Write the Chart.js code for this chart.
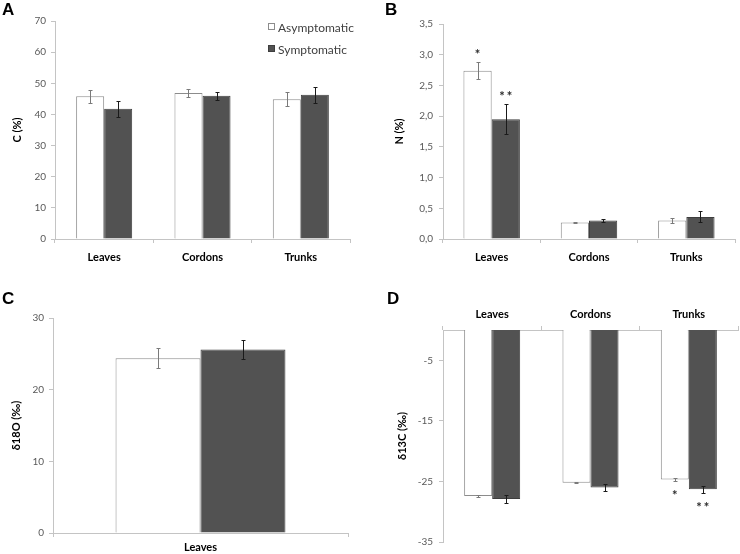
<!DOCTYPE html>
<html lang="en">
<head>
    <meta charset="UTF-8">
    <title>C, N and isotopes in asymptomatic and symptomatic tissues</title>
    <script src="https://cdn.jsdelivr.net/npm/chart.js"></script>
    <style>
        body { margin: 0; background: #fff; }
        .wrap { position: relative; width: 740px; height: 554px; }
        .wrap canvas { position: absolute; }
        .letter {
            position: absolute;
            font: bold 17px "Liberation Sans", Arial, sans-serif;
            line-height: 1;
            color: #000;
        }
    </style>
</head>
<body>
<div class="wrap">
    <canvas id="chartA" width="370" height="270" style="left:0;top:0"></canvas>
    <canvas id="chartB" width="370" height="270" style="left:370px;top:0"></canvas>
    <canvas id="chartC" width="370" height="284" style="left:0;top:270px"></canvas>
    <canvas id="chartD" width="370" height="284" style="left:370px;top:270px"></canvas>
    <div class="letter" style="left:2px;top:1px">A</div>
    <div class="letter" style="left:385px;top:1px">B</div>
    <div class="letter" style="left:2px;top:290px">C</div>
    <div class="letter" style="left:387px;top:290px">D</div>
</div>
<script>
    // categories
    const tissues = ['Leaves', 'Cordons', 'Trunks'];
    const leavesOnly = ['Leaves'];
    const seriesNames = ['Asymptomatic', 'Symptomatic'];

    // A - C (%)
    const cAsym = [45.8, 46.9, 44.9];
    const cAsymErr = [2.1, 1.3, 2.3];
    const cSym = [41.8, 46.0, 46.3];
    const cSymErr = [2.5, 1.3, 2.5];

    // B - N (%)
    const nAsym = [2.74, 0.27, 0.30];
    const nAsymErr = [0.14, 0.01, 0.035];
    const nSym = [1.95, 0.30, 0.36];
    const nSymErr = [0.245, 0.025, 0.09];
    const nStars = ['*', '**']; // on Leaves, asym and sym

    // C - d18O (leaves only)
    const oAsym = [24.4];
    const oAsymErr = [1.42];
    const oSym = [25.6];
    const oSymErr = [1.33];

    // D - d13C
    const dAsym = [-27.4, -25.2, -24.7];
    const dAsymErr = [0.1, 0.1, 0.2];
    const dSym = [-27.9, -26.0, -26.3];
    const dSymErr = [0.65, 0.57, 0.6];
    const dStars = ['*', '**']; // on Trunks, asym and sym
    const dTicks = [-35, -25, -15, -5];

    const FONT = '"Lato", "Liberation Sans", sans-serif';
    const AXIS = '#c4c4c4';
    const TICK_TXT = '#595959';

    // error bars drawn from the dataset "errors" arrays
    const errorBars = {
        id: 'errorBars',
        afterDatasetsDraw(chart) {
            const ctx = chart.ctx;
            const y = chart.scales.y;
            chart.data.datasets.forEach((ds, i) => {
                chart.getDatasetMeta(i).data.forEach((bar, j) => {
                    const v = ds.data[j], e = ds.errors[j];
                    const a = Math.round(y.getPixelForValue(v + e)) + 0.5;
                    const b = Math.round(y.getPixelForValue(v - e)) + 0.5;
                    const x = Math.round(bar.x) + 0.5;
                    ctx.save();
                    ctx.strokeStyle = ds.errColor;
                    ctx.lineWidth = 1;
                    ctx.beginPath();
                    ctx.moveTo(x, a); ctx.lineTo(x, b);
                    ctx.moveTo(x - 2, a); ctx.lineTo(x + 2, a);
                    ctx.moveTo(x - 2, b); ctx.lineTo(x + 2, b);
                    ctx.stroke();
                    ctx.restore();
                });
            });
        }
    };

    // significance marks beyond the end of the error bar
    const starMarks = {
        id: 'starMarks',
        afterDatasetsDraw(chart, args, opts) {
            if (!opts.marks) return;
            const ctx = chart.ctx;
            const y = chart.scales.y;
            opts.marks.forEach((txt, i) => {
                const ds = chart.data.datasets[i];
                const j = opts.index;
                const v = ds.data[j], e = ds.errors[j];
                const bar = chart.getDatasetMeta(i).data[j];
                const end = v >= 0 ? y.getPixelForValue(v + e) : y.getPixelForValue(v - e);
                const cy = v >= 0 ? end - 11 : end + 11;
                ctx.save();
                ctx.fillStyle = '#2a2a2a';
                ctx.font = 'bold 13px ' + FONT;
                ctx.letterSpacing = '2px';
                ctx.textAlign = 'center';
                ctx.textBaseline = 'alphabetic';
                ctx.fillText(txt, bar.x + 1, cy + 8);
                ctx.restore();
            });
        }
    };

    // stacked legend in panel A
    const boxLegend = {
        id: 'boxLegend',
        afterDraw(chart, args, opts) {
            if (!opts.show) return;
            const ctx = chart.ctx;
            ctx.save();
            chart.data.datasets.forEach((ds, i) => {
                const y0 = opts.y + i * 22;
                ctx.fillStyle = ds.backgroundColor;
                ctx.fillRect(opts.x, y0 - 3, 6, 6);
                ctx.strokeStyle = ds.borderColor;
                ctx.lineWidth = 1;
                ctx.strokeRect(opts.x + 0.5, y0 - 3.5, 6, 6);
                ctx.fillStyle = '#404040';
                ctx.font = '12px ' + FONT;
                ctx.textBaseline = 'middle';
                ctx.fillText(ds.label, opts.x + 10, y0 + 1);
            });
            ctx.restore();
        }
    };

    function makeDatasets(asym, asymErr, sym, symErr, catPct) {
        return [{
            label: seriesNames[0],
            data: asym,
            errors: asymErr,
            errColor: '#7a7a7a',
            backgroundColor: '#ffffff',
            borderColor: '#8c8c8c',
            borderWidth: 1,
            barPercentage: 1,
            categoryPercentage: catPct
        }, {
            label: seriesNames[1],
            data: sym,
            errors: symErr,
            errColor: '#1a1a1a',
            backgroundColor: '#525252',
            borderColor: '#3e3e3e',
            borderWidth: 1,
            barPercentage: 1,
            categoryPercentage: catPct
        }];
    }

    function makeOptions(p) {
        return {
            responsive: false,
            animation: false,
            events: [],
            layout: { padding: p.padding },
            plugins: {
                legend: { display: false },
                tooltip: { enabled: false },
                starMarks: p.stars || {},
                boxLegend: p.legend || {}
            },
            scales: {
                x: {
                    position: p.xPos || 'bottom',
                    offset: true,
                    grid: { drawOnChartArea: false, drawTicks: true, tickLength: 4, color: AXIS, offset: true },
                    border: { color: AXIS },
                    ticks: { color: '#000', font: { family: FONT, size: 11, weight: 'bold' }, padding: p.xPad },
                    afterFit(s) { s.height = p.xHeight; }
                },
                y: {
                    min: p.min,
                    max: p.max,
                    grid: { drawOnChartArea: false, tickLength: 4, color: AXIS },
                    border: { color: AXIS },
                    ticks: {
                        stepSize: p.step,
                        color: TICK_TXT,
                        font: { family: FONT, size: 10 },
                        padding: p.yPad,
                        callback: p.fmt || (v => v)
                    },
                    afterBuildTicks: p.ticks ? (s => { s.ticks = p.ticks.map(v => ({ value: v })); }) : undefined,
                    title: {
                        display: true,
                        text: p.title,
                        color: '#000',
                        font: { family: FONT, size: 11, weight: 'bold' },
                        padding: { top: p.titlePad, bottom: 0 }
                    },
                    afterFit(s) { s.width = p.yWidth; }
                }
            }
        };
    }

    const plugins = [errorBars, starMarks, boxLegend];

    new Chart(document.getElementById('chartA'), {
        type: 'bar',
        data: { labels: tissues, datasets: makeDatasets(cAsym, cAsymErr, cSym, cSymErr, 0.57) },
        options: makeOptions({
            padding: { left: 0, right: 20, top: 21, bottom: 0 },
            min: 0, max: 70, step: 10,
            title: 'C (%)', titlePad: 11, yWidth: 55, yPad: 5,
            xHeight: 31, xPad: 8,
            legend: { show: true, x: 268, y: 27 }
        }),
        plugins: plugins
    });

    new Chart(document.getElementById('chartB'), {
        type: 'bar',
        data: { labels: tissues, datasets: makeDatasets(nAsym, nAsymErr, nSym, nSymErr, 0.58) },
        options: makeOptions({
            padding: { left: 0, right: 5, top: 24, bottom: 0 },
            min: 0, max: 3.5, step: 0.5,
            fmt: v => v.toFixed(1).replace('.', ','),
            title: 'N (%)', titlePad: 23, yWidth: 73, yPad: 6,
            xHeight: 31, xPad: 8,
            stars: { marks: nStars, index: 0 }
        }),
        plugins: plugins
    });

    new Chart(document.getElementById('chartC'), {
        type: 'bar',
        data: { labels: leavesOnly, datasets: makeDatasets(oAsym, oAsymErr, oSym, oSymErr, 0.576) },
        options: makeOptions({
            padding: { left: 0, right: 22, top: 48, bottom: 0 },
            min: 0, max: 30, step: 10,
            title: 'δ18O (‰)', titlePad: 10, yWidth: 53, yPad: 5,
            xHeight: 21, xPad: 4
        }),
        plugins: plugins
    });

    new Chart(document.getElementById('chartD'), {
        type: 'bar',
        data: { labels: tissues, datasets: makeDatasets(dAsym, dAsymErr, dSym, dSymErr, 0.57) },
        options: makeOptions({
            padding: { left: 0, right: 2, top: 0, bottom: 8 },
            min: -35, max: 0, ticks: dTicks,
            title: 'δ13C (‰)', titlePad: 26, yWidth: 73, yPad: 6,
            xPos: 'top', xHeight: 60, xPad: 5,
            stars: { marks: dStars, index: 2 }
        }),
        plugins: plugins
    });
</script>
</body>
</html>
